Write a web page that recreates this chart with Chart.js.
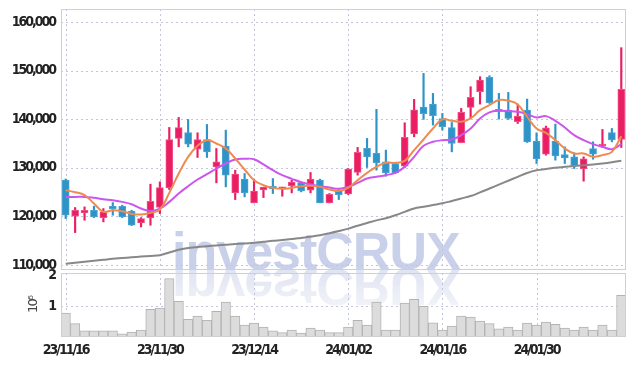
<!DOCTYPE html>
<html>
<head>
<meta charset="utf-8">
<script src="https://cdn.jsdelivr.net/npm/chart.js@4.4.1/dist/chart.umd.min.js"></script>
<style>
  body { margin: 0; background: #fff; width: 634px; height: 366px; overflow: hidden; position: relative; }
  .wm { position: absolute; left: 172px; top: 225px; font: bold 52px 'Liberation Sans', Arial, sans-serif;
        letter-spacing: -1px; line-height: 52px; white-space: nowrap; color: rgba(188, 196, 228, 0.8); }
  #wm2 { transform-origin: 0 44px; transform: scaleY(-1); color: rgba(196, 203, 230, 0.6);
         -webkit-mask-image: linear-gradient(to bottom, rgba(0,0,0,0.3), rgba(0,0,0,1)); }
  #price { position: absolute; left: 0; top: 0; }
  #volume { position: absolute; left: 0; top: 262px; }
</style>
</head>
<body>
<div class="wm" id="wm1">investCRUX</div>
<div class="wm" id="wm2">investCRUX</div>
<canvas id="price" width="634" height="282"></canvas>
<canvas id="volume" width="634" height="104"></canvas>
<script>
const labels = [
  '23/11/16','23/11/17','23/11/20','23/11/21','23/11/22','23/11/23','23/11/24','23/11/27','23/11/28','23/11/29',
  '23/11/30','23/12/01','23/12/04','23/12/05','23/12/06','23/12/07','23/12/08','23/12/11','23/12/12','23/12/13',
  '23/12/14','23/12/15','23/12/18','23/12/19','23/12/20','23/12/21','23/12/22','23/12/26','23/12/27','23/12/28',
  '24/01/02','24/01/03','24/01/04','24/01/05','24/01/08','24/01/09','24/01/10','24/01/11','24/01/12','24/01/15',
  '24/01/16','24/01/17','24/01/18','24/01/19','24/01/22','24/01/23','24/01/24','24/01/25','24/01/26','24/01/29',
  '24/01/30','24/01/31','24/02/01','24/02/02','24/02/05','24/02/06','24/02/07','24/02/08','24/02/13','24/02/14'
];

const opens = [
  127460,120050,120740,121290,119780,122110,122110,121080,118680,119710,
  121840,125880,136040,137270,133840,135830,130200,134460,124850,127670,
  122800,125470,126220,125680,126300,126980,125400,127460,122800,125400,
  124650,129050,133990,132960,131230,130890,130350,136990,142490,143100,
  140150,138300,135150,142420,145640,148590,142010,141870,139470,141870,
  135490,132810,135490,132740,132260,129790,133980,134460,137270,135830
];
const highs = [
  127700,121840,121970,122110,121630,122860,122320,121290,119780,126640,
  127120,138300,140360,139950,137200,138920,133980,137750,129520,128830,
  127670,126020,127800,126020,127460,127120,129040,127670,124720,125750,
  129860,134200,136050,142020,133640,131100,139260,144080,149410,145300,
  141180,139330,142210,146670,148730,148930,145300,145500,143100,144130,
  137200,138580,138990,134320,133090,132260,135350,137890,138090,154700
];
const lows = [
  119570,116690,119230,119780,118890,120260,119780,118130,117860,118200,
  120600,125540,134320,134320,132130,132130,126910,126090,123480,124030,
  122800,123890,124720,124170,124850,125060,124850,122800,122800,123480,
  124510,128500,130080,129530,128290,128830,130080,136380,139960,138790,
  137750,133290,135150,140150,143100,143240,140020,139950,139120,135210,
  130890,132610,131580,130890,129860,127260,131780,134180,135350,134180
];
const closes = [
  120260,121290,121290,119910,120950,121630,119910,118200,119570,123140,
  125950,135830,138300,134870,135830,133290,131230,128490,128700,124850,
  125200,126020,125680,126020,127050,125270,127670,122800,124580,124510,
  129730,133170,132260,131030,128970,128970,136250,141920,141110,140700,
  138440,135010,141390,144470,148040,143370,141590,140150,140630,135350,
  131850,138230,132470,132060,130410,131850,132810,134870,135760,146120
];

// moving average lines
const ma5 = [
  125400,125000,124400,122660,120950,121290,121080,120530,120400,120740,
  121430,124850,128830,132260,134530,135690,135010,133980,131920,129660,
  127460,126430,125880,125680,125880,126220,126300,126090,125540,125270,
  125880,127460,128970,130200,131030,131030,131440,133640,135830,138090,
  139950,139670,139470,140150,141870,142900,143930,143790,143030,140500,
  138090,137200,135690,133980,132950,132950,132260,132610,133290,136520
];
const ma20 = [
  124030,124030,124030,123830,123550,123350,123000,122520,121630,121150,
  121630,123000,124720,126220,127600,128700,129860,130890,131720,131850,
  131780,130690,129520,128490,127740,127050,126570,126220,125950,125680,
  126090,126910,127800,128150,128490,128970,130200,132260,134530,135350,
  135690,135830,136720,138090,140150,141390,141730,141660,141520,141040,
  140360,140630,139670,138300,136720,135690,134870,134320,133840,134870
];
const ma120 = [
  110300,110500,110700,110900,111100,111300,111450,111600,111750,111900,
  112050,112600,113150,113500,113750,113900,114050,114200,114350,114450,
  114600,114800,115000,115150,115350,115600,115850,116150,116550,117000,
  117500,118100,118650,119200,119650,120250,120950,121650,122000,122350,
  122700,123200,123700,124200,124950,125750,126550,127350,128150,128950,
  129500,129750,130000,130200,130400,130550,130700,130900,131150,131450
];

// volume in shares
const volumes = [
  770000,430000,200000,200000,200000,200000,100000,160000,220000,890000,
  930000,1880000,1150000,570000,670000,540000,830000,1120000,670000,380000,
  450000,320000,200000,140000,220000,130000,290000,220000,140000,140000,
  320000,540000,380000,1120000,220000,220000,1090000,1210000,990000,460000,
  220000,350000,670000,640000,510000,430000,260000,320000,220000,450000,
  380000,480000,410000,290000,220000,320000,220000,380000,220000,1340000
];

const priceTicks = [110000, 120000, 130000, 140000, 150000, 160000];
const volumeTicks = [1000000, 2000000];

const UP = '#e91e63';
const DOWN = '#2e93c6';
const isUp = closes.map((c, i) => c >= opens[i]);
const candleColors = isUp.map(u => u ? UP : DOWN);
const candleBorders = isUp.map(u => u ? '#f0528a' : '#4aa3d2');

const gridColor = '#c3c6da';
const tickFont = { family: "'DejaVu Sans Condensed', 'DejaVu Sans', sans-serif", size: 14, weight: 'bold' };

// dotted grid + light frame, drawn by hand so the dash is certain
const gridPlugin = {
  id: 'dottedGrid',
  beforeDraw(chart) {
    // the reference uses a very narrow face; tighten the installed condensed one
    chart.ctx.letterSpacing = '-2px';
  },
  beforeDatasetsDraw(chart, args, opts) {
    const { ctx, chartArea: a, scales: { x, y } } = chart;
    ctx.save();
    ctx.strokeStyle = gridColor;
    ctx.lineWidth = 1;
    ctx.setLineDash([2, 3]);
    ctx.beginPath();
    opts.yValues.forEach(v => {
      const py = Math.round(y.getPixelForValue(v)) + 0.5;
      ctx.moveTo(a.left, py);
      ctx.lineTo(a.right, py);
    });
    labels.forEach((l, i) => {
      if (i % 10 !== 0) return;
      const px = Math.round(x.getPixelForValue(i)) + 0.5;
      ctx.moveTo(px, a.top);
      ctx.lineTo(px, a.bottom);
    });
    ctx.stroke();
    ctx.restore();
  },
  afterDraw(chart) {
    const { ctx, chartArea: a } = chart;
    ctx.save();
    ctx.strokeStyle = '#d0d0d0';
    ctx.lineWidth = 1;
    ctx.strokeRect(a.left + 0.5, a.top + 0.5, a.right - a.left - 1, a.bottom - a.top - 1);
    ctx.restore();
  }
};

const noPad = axis => {
  axis.paddingTop = 0; axis.paddingBottom = 0;
  axis.paddingLeft = 0; axis.paddingRight = 0;
};

new Chart(document.getElementById('price'), {
  type: 'bar',
  data: {
    labels: labels,
    datasets: [
      { type: 'line', data: ma5, borderColor: '#ef8a50', borderWidth: 2, pointRadius: 0, tension: 0.4, order: 0 },
      { type: 'line', data: ma20, borderColor: '#cc55ee', borderWidth: 2, pointRadius: 0, tension: 0.4, order: 0 },
      { type: 'line', data: ma120, borderColor: '#888888', borderWidth: 2, pointRadius: 0, tension: 0.4, order: 0 },
      {
        data: opens.map((o, i) => [o, closes[i]]),
        backgroundColor: candleColors, borderColor: candleBorders, borderWidth: 1,
        borderSkipped: false, barThickness: 7, minBarLength: 2, grouped: false, order: 1
      },
      {
        data: lows.map((l, i) => [l, highs[i]]),
        backgroundColor: candleColors, borderWidth: 0,
        barThickness: 1.5, grouped: false, order: 2
      }
    ]
  },
  options: {
    responsive: false,
    animation: false,
    layout: { padding: { top: 9, right: 8, left: 0, bottom: 12 } },
    plugins: { legend: { display: false }, tooltip: { enabled: false }, dottedGrid: { yValues: priceTicks } },
    scales: {
      x: {
        offset: true,
        grid: { display: false, drawTicks: false },
        border: { display: false },
        ticks: { display: false, autoSkip: false },
        afterFit: axis => { axis.height = 0; noPad(axis); }
      },
      y: {
        min: 109000,
        max: 162650,
        afterBuildTicks: axis => { axis.ticks = priceTicks.map(v => ({ value: v })); },
        afterFit: axis => { axis.width = 61; noPad(axis); },
        grid: { display: false, drawTicks: false },
        border: { display: false },
        ticks: {
          padding: 6, color: '#222', font: tickFont,
          callback: v => v.toLocaleString('en-US')
        }
      }
    }
  },
  plugins: [gridPlugin]
});

new Chart(document.getElementById('volume'), {
  type: 'bar',
  data: {
    labels: labels,
    datasets: [{
      data: volumes,
      backgroundColor: '#dcdcdc', borderColor: '#b3b3b3', borderWidth: 1,
      borderSkipped: 'bottom', barPercentage: 1, categoryPercentage: 1
    }]
  },
  options: {
    responsive: false,
    animation: false,
    layout: { padding: { top: 11, right: 8, left: 0, bottom: 0 } },
    plugins: { legend: { display: false }, tooltip: { enabled: false }, dottedGrid: { yValues: [1000000] } },
    scales: {
      x: {
        offset: true,
        grid: { display: false, drawTicks: false },
        border: { display: false },
        afterFit: axis => { axis.height = 29; noPad(axis); },
        ticks: {
          autoSkip: false, maxRotation: 0, padding: 5, color: '#222', font: tickFont,
          callback: (v, i) => (i % 10 === 0 ? labels[i] : '')
        }
      },
      y: {
        min: 0,
        max: 2060000,
        afterBuildTicks: axis => { axis.ticks = volumeTicks.map(v => ({ value: v })); },
        afterFit: axis => { axis.width = 61; noPad(axis); },
        grid: { display: false, drawTicks: false },
        border: { display: false },
        title: {
          display: true, text: '10⁶', color: '#444',
          font: { family: "'DejaVu Sans', sans-serif", size: 13 },
          padding: { top: 26, bottom: 0 }
        },
        ticks: {
          padding: 6, color: '#222', font: tickFont,
          callback: v => v / 1000000
        }
      }
    }
  },
  plugins: [gridPlugin]
});
</script>
</body>
</html>
